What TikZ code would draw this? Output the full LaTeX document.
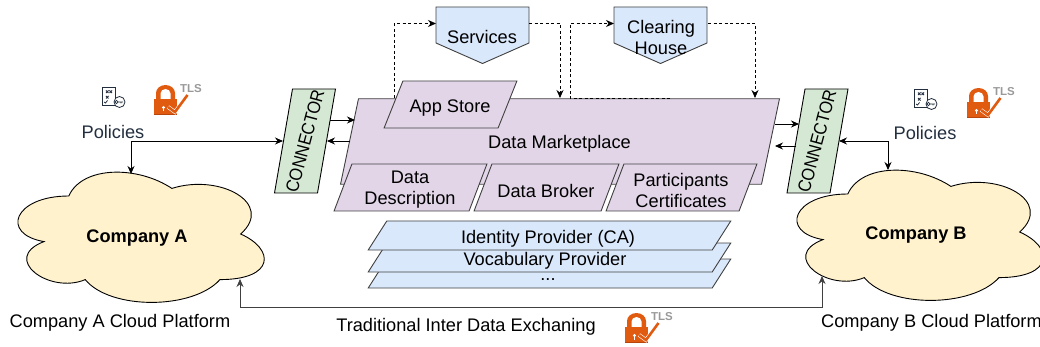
\documentclass[tikz,border=0pt]{standalone}
\usepackage{fontspec}
\setmainfont{Liberation Sans}
\usepackage{tikz}
\usetikzlibrary{positioning}
\usetikzlibrary{arrows.meta}
\definecolor{lilac}{HTML}{E1D5E7}
\definecolor{sky}{HTML}{DAE8FC}
\definecolor{mint}{HTML}{D5E8D4}
\definecolor{sand}{HTML}{FFF2CC}
\definecolor{slate}{HTML}{232F3E}
\definecolor{lockorange}{HTML}{E05A10}
\definecolor{lockdark}{HTML}{B8460C}
\tikzstyle{para} = [rectangle, draw=black!75, line width=0.9pt, transform shape, inner sep=0pt]
\tikzstyle{store} = [para, fill=lilac]
\tikzstyle{provider} = [para, fill=sky, xslant=0.64, minimum width=344pt, minimum height=29pt]
\tikzstyle{conn} = [para, draw=black, fill=mint, xslant=0.173, minimum width=43pt, minimum height=104pt]
\tikzstyle{txt} = [font=\fontsize{18.2}{21}\selectfont, align=center, inner sep=0pt]
\tikzstyle{bigfont} = [txt, font=\fontsize{18.2}{21}\selectfont\bfseries]
\tikzstyle{sidetxt} = [txt, rotate=75, xscale=0.9, transform shape]
\tikzstyle{line} = [draw, line width=0.8pt, -{Stealth[length=8pt,width=7pt]}]
\tikzstyle{both} = [draw, line width=0.8pt, {Stealth[length=8pt,width=7pt]}-{Stealth[length=8pt,width=7pt]}]
\tikzstyle{dotline} = [line, dash pattern=on 3pt off 2.5pt]
% cloud and pentagon outlines
\newcommand{\cloudpath}[3]{
    \begin{scope}[shift={#2}, x=2.75pt, y=-1.52pt]
    \draw[#1] (25,25) .. controls (5,25) and (0,50) .. (16,55)
        .. controls (0,66) and (18,90) .. (31,80)
        .. controls (40,100) and (70,100) .. (80,80)
        .. controls (100,80) and (100,60) .. (87.5,50)
        .. controls (100,30) and (80,10) .. (62.5,20)
        .. controls (50,5) and (30,5) .. (25,25) -- cycle;
    \coordinate (#3) at (50,50);
    \end{scope}
}
\newcommand{\pagebox}[2]{
    \draw[draw=black!75, line width=0.9pt, fill=sky] (#1,7) -- ++(93,0) -- ++(0,36) -- ++(-46.5,20.5) -- ++(-46.5,-20.5) -- cycle;
    \coordinate (#2) at (#1+46.5,23);
}
\tikzset{
    tlslock/.pic={
        \fill[lockorange] (2,-16) -- (2,-22) arc[start angle=180,end angle=0,x radius=9.5pt,y radius=8pt] -- (21,-16) -- cycle;
        \fill[white] (6.5,-16) -- (6.5,-21.5) arc[start angle=180,end angle=0,x radius=5pt,y radius=4.5pt] -- (16.5,-16) -- cycle;
        \fill[lockorange] (0,-16) rectangle (23,0);
        \fill[lockdark] (0,-1) rectangle (23,0);
        \fill[white] (9.5,-7.5) circle (1.6pt);
        \fill[white] (8.8,-8) rectangle (10.2,-3.5);
        \draw[white, line width=3.8pt] (14,-8) -- (21,-3) -- (33.5,-20);
        \draw[lockorange, line width=2.6pt] (14,-8) -- (21,-3) -- (33.5,-20);
        \node[font=\fontsize{11.5}{12}\selectfont\bfseries, text=black!40, inner sep=0pt] (tls) at (37,-26.5) {TLS};
    },
    policydoc/.pic={
        \draw[slate, line width=0.8pt, fill=white] (0,0) rectangle (13.5,18);
        \draw[slate, line width=0.8pt] (4,3.5) -- (6.5,6) (4,6) -- (6.5,3.5) (7.5,3.5) -- (10,6) (7.5,6) -- (10,3.5)
            (4,9) -- (6.5,11.5) (4,11.5) -- (6.5,9) (2,15) -- (3.5,16) -- (5.5,13.5);
        \draw[slate, line width=0.8pt, fill=white] (17.5,15) circle (5.5pt);
        \draw[slate, line width=0.8pt] (14.5,15) circle (1.6pt) (16.1,15) -- (21,15) (19,15) -- (19,16.5);
    }
}
\begin{document}
\begin{tikzpicture}[x=1pt,y=-1pt]
        \useasboundingbox (0,0) rectangle (1040,347);
        % clouds
        \cloudpath{draw=black, line width=0.9pt, fill=sand}{(0,158)}{cloudA}
        \cloudpath{draw=black, line width=0.9pt, fill=sand}{(779,156)}{cloudB}
        \node[bigfont](compA) at (137,238){Company A};
        \node[bigfont](compB) at (916,235){Company B};
        \node[txt, anchor=west](platA) at (9.5,323){Company A Cloud Platform};
        \node[txt, anchor=west](platB) at (821,323){Company B Cloud Platform};
        \node[txt](exchange) at (466,327){Traditional Inter Data Exchaning};
        % marketplace
        \node[store, xslant=0.21, minimum width=421pt, minimum height=85.5pt](market) at (560,141.5){};
        \node[txt] (marketlabel) at (559.5,144){Data Marketplace};
        \node[store, xslant=0.4, minimum width=114pt, minimum height=47pt](appstore) at (450.5,104.5){};
        \node[txt] (appstorelabel) at (450,108){App Store};
        \node[store, xslant=0.38, minimum width=135pt, minimum height=47pt](descr) at (410.5,187.5){};
        \node[txt] (descrlabel) at (410,190){Data\\Description};
        \node[store, xslant=0.38, minimum width=127pt, minimum height=47pt](broker) at (546.5,187.5){};
        \node[txt] (brokerlabel) at (546,191){Data Broker};
        \node[store, xslant=0.38, minimum width=133pt, minimum height=47pt](certs) at (681.5,187.5){};
        \node[txt] (certslabel) at (681,190){Participants\\Certificates};
        % providers, last one first
        \node[provider](etc) at (549.5,273.5){};
        \node[txt] (etclabel) at (548,280){...};
        \node[provider](vocab) at (549.5,257.5){};
        \node[txt] (vocablabel) at (545,261){Vocabulary Provider};
        \node[provider](idp) at (549.5,235.5){};
        \node[txt] (idplabel) at (548,239){Identity Provider (CA)};
        % connectors
        \node[conn](connL) at (305,141){};
        \node[sidetxt] (connLlabel) at (305,141){CONNECTOR};
        \node[conn](connR) at (817.5,141){};
        \node[sidetxt] (connRlabel) at (817,141){CONNECTOR};
        % services
        \pagebox{436}{services}
        \node[txt] (serviceslabel) at (482,37){Services};
        \pagebox{614}{clearing}
        \node[txt] (clearinglabel) at (661,37){Clearing\\House};
        % icons
        \pic at (102,87) {policydoc};
        \pic at (914,89) {policydoc};
        \pic at (154,115) {tlslock};
        \pic at (967,118) {tlslock};
        \pic at (625,343) {tlslock};
        \node[txt, text=slate](polA) at (113,132){Policies};
        \node[txt, text=slate](polB) at (925,133){Policies};
        % arrows
        \coordinate (mL) at (355,120);
        \coordinate (cL) at (330,120);
        \path[line] (cL) -- (mL);
        \coordinate (mLb) at (350,141);
        \coordinate (cLb) at (327,141);
        \path[line] (mLb) -- (cLb);
        \coordinate (mR) at (775,124);
        \coordinate (cR) at (799,124);
        \path[line] (mR) -- (cR);
        \coordinate (cRb) at (796,146);
        \coordinate (mRb) at (775,146);
        \path[line] (cRb) -- (mRb);
        \coordinate (cLp) at (283,141);
        \coordinate (cloudAtop) at (131,174);
        \path[both] (cLp) -| (cloudAtop);
        \coordinate (cRp) at (839,141);
        \coordinate (cloudBtop) at (888,170);
        \path[both] (cRp) -| (cloudBtop);
        \coordinate (cloudAfoot) at (240,279);
        \coordinate (cloudBfoot) at (822,276);
        \path[both, draw=black!75] (cloudAfoot) |- (822,307) -- (cloudBfoot);
        % dashed links
        \coordinate (appout) at (394.5,98);
        \coordinate (svcin) at (436,23.5);
        \path[dotline] (appout) |- (svcin);
        \coordinate (svcout) at (529,23.5);
        \coordinate (mktA) at (560,98);
        \path[dotline] (svcout) -| (mktA);
        \coordinate (mktB) at (670,98.5);
        \coordinate (clrin) at (614,23.5);
        \path[dotline] (mktB) -- (570,98.5) |- (clrin);
        \coordinate (clrout) at (708,23.5);
        \coordinate (mktC) at (755,98);
        \path[dotline] (clrout) -| (mktC);
\end{tikzpicture}
\end{document}
